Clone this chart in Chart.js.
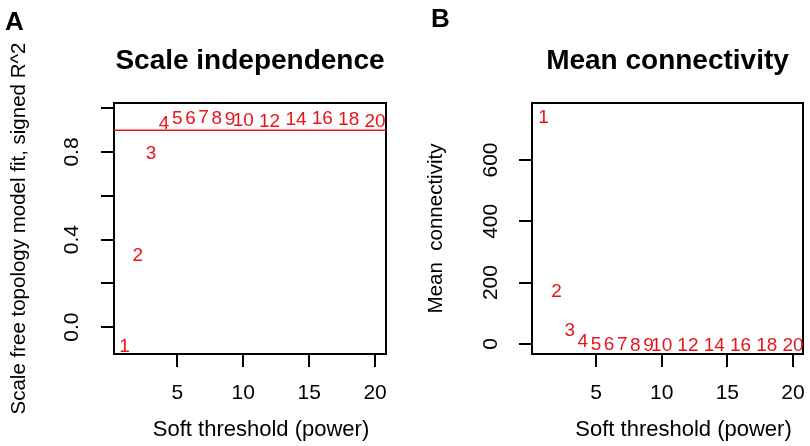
<!DOCTYPE html>
<html>
<head>
<meta charset="utf-8">
<script src="https://cdn.jsdelivr.net/npm/chart.js@4.4.1/dist/chart.umd.min.js"></script>
<style>
  body { margin: 0; background: #fff; }
  .figura { position: relative; width: 810px; height: 446px; }
  .panel { position: absolute; top: 0; width: 405px; height: 446px; }
  .letra { position: absolute; font: bold 26px "Liberation Sans", Arial, sans-serif; line-height: 26px; color: #000; }
</style>
</head>
<body>
<div class="figura">
  <div class="panel" style="left:0"><canvas id="chartA" width="405" height="446"></canvas></div>
  <div class="panel" style="left:405px"><canvas id="chartB" width="405" height="446"></canvas></div>
  <div class="letra" style="left:5px; top:8px">A</div>
  <div class="letra" style="left:431px; top:5px">B</div>
</div>
<script>
// Datos (potencias del soft threshold y sus indices)
const powers = [1, 2, 3, 4, 5, 6, 7, 8, 9, 10, 12, 14, 16, 18, 20];
const fitR2 = [-0.085, 0.333, 0.80, 0.935, 0.958, 0.958, 0.963, 0.958, 0.955, 0.952, 0.947, 0.955, 0.960, 0.955, 0.947];
const meanK = [743, 176, 48, 12, 3, 1.5, 0.9, 0.6, 0.4, 0.3, 0.15, 0.1, 0.06, 0.04, 0.03];
const rCutoff = 0.9;

const xTicks = [5, 10, 15, 20];
const yTicksA = [0, 0.2, 0.4, 0.6, 0.8, 1.0];
const yTickLabelsA = ['0.0', '', '0.4', '', '0.8', ''];
const yTicksB = [0, 200, 400, 600];
const yTickLabelsB = ['0', '200', '400', '600'];

const FUENTE = '"Liberation Sans", Arial, sans-serif';
const ROJO = '#e8141c';

// Caja negra alrededor del area de la grafica (estilo R)
const marcoPlugin = {
    id: 'marco',
    afterDatasetsDraw(chart) {
        const { ctx, chartArea: a } = chart;
        ctx.save();
        ctx.strokeStyle = '#000';
        ctx.lineWidth = 2;
        ctx.strokeRect(a.left, a.top, a.right - a.left, a.bottom - a.top);
        ctx.restore();
    }
};

// Linea horizontal roja del corte de R^2
const cortePlugin = {
    id: 'lineaCorte',
    afterDatasetsDraw(chart, args, opts) {
        if (!opts || opts.valor == null) return;
        const { ctx, chartArea: a } = chart;
        const y = chart.scales.y.getPixelForValue(opts.valor);
        ctx.save();
        ctx.strokeStyle = ROJO;
        ctx.lineWidth = 1.5;
        ctx.beginPath();
        ctx.moveTo(a.left, y);
        ctx.lineTo(a.right, y);
        ctx.stroke();
        ctx.restore();
    }
};

// Cada punto se dibuja como el numero de la potencia, en rojo,
// centrado sobre el punto (los digitos miden ~0.716 del tamano)
const etiquetasPlugin = {
    id: 'etiquetasPotencia',
    afterDatasetsDraw(chart) {
        const { ctx } = chart;
        const meta = chart.getDatasetMeta(0);
        const tam = 19;
        ctx.save();
        ctx.font = tam + 'px ' + FUENTE;
        ctx.fillStyle = ROJO;
        ctx.textAlign = 'center';
        ctx.textBaseline = 'alphabetic';
        meta.data.forEach((punto, i) => {
            ctx.fillText(String(powers[i]), punto.x, punto.y + tam * 0.358);
        });
        ctx.restore();
    }
};

// Titulo del eje x, un poco corrido a la derecha como en la figura original
const tituloXPlugin = {
    id: 'tituloEjeX',
    afterDraw(chart, args, opts) {
        const { ctx, chartArea: a } = chart;
        ctx.save();
        ctx.font = '22px ' + FUENTE;
        ctx.fillStyle = '#000';
        ctx.textAlign = 'center';
        ctx.textBaseline = 'middle';
        ctx.fillText(opts.texto, (a.left + a.right) / 2 + opts.desplazamiento, a.bottom + 76);
        ctx.restore();
    }
};

function crearPanel(id, cfg) {
    const ctx = document.getElementById(id).getContext('2d');
    return new Chart(ctx, {
        type: 'scatter',
        data: {
            datasets: [{
                data: powers.map((p, i) => ({ x: p, y: cfg.valores[i] })),
                pointRadius: 0,
                showLine: false
            }]
        },
        options: {
            responsive: false,
            animation: false,
            layout: { padding: { left: 0, right: cfg.padDerecha, top: 0, bottom: 0 } },
            plugins: {
                legend: { display: false },
                tooltip: { enabled: false },
                title: {
                    display: true,
                    text: cfg.titulo,
                    fullSize: false,
                    color: '#000',
                    font: { size: 28, weight: 'bold', family: FUENTE },
                    padding: { top: 44, bottom: 25.4 }
                },
                lineaCorte: { valor: cfg.corte },
                tituloEjeX: { texto: 'Soft threshold (power)', desplazamiento: cfg.despTituloX }
            },
            scales: {
                x: {
                    type: 'linear',
                    min: cfg.xMin,
                    max: cfg.xMax,
                    afterBuildTicks: s => { s.ticks = xTicks.map(v => ({ value: v })); },
                    afterFit: s => { s.height = 92; s.paddingLeft = 0; s.paddingRight = 0; },
                    ticks: { autoSkip: false, maxRotation: 0, padding: 14, color: '#000', font: { size: 21, family: FUENTE } },
                    grid: { drawOnChartArea: false, drawTicks: true, tickLength: 13, color: '#000', lineWidth: 2 },
                    border: { display: false }
                },
                y: {
                    type: 'linear',
                    min: cfg.yMin,
                    max: cfg.yMax,
                    afterBuildTicks: s => { s.ticks = cfg.yTicks.map(v => ({ value: v })); },
                    afterFit: s => { s.width = cfg.anchoEjeY; s.paddingTop = 0; s.paddingBottom = 0; },
                    ticks: {
                        autoSkip: false,
                        minRotation: 90,
                        maxRotation: 90,
                        crossAlign: 'center',
                        padding: cfg.padTicksY,
                        color: '#000',
                        font: { size: 21, family: FUENTE },
                        callback: (valor, i) => cfg.yLabels[i]
                    },
                    grid: { drawOnChartArea: false, drawTicks: true, tickLength: 13, color: '#000', lineWidth: 2 },
                    border: { display: false },
                    title: {
                        display: true,
                        text: cfg.tituloY,
                        color: '#000',
                        font: { size: 20.5, family: FUENTE },
                        padding: { top: cfg.padTituloY, bottom: 0 }
                    }
                }
            }
        },
        plugins: [marcoPlugin, cortePlugin, etiquetasPlugin, tituloXPlugin]
    });
}

crearPanel('chartA', {
    titulo: 'Scale independence',
    tituloY: 'Scale free topology model fit, signed R^2',
    valores: fitR2,
    xMin: 0.2, xMax: 20.83,
    yMin: -0.123, yMax: 1.024,
    yTicks: yTicksA, yLabels: yTickLabelsA,
    anchoEjeY: 114, padDerecha: 19, padTicksY: 14.5, padTituloY: 7,
    despTituloX: 11,
    corte: rCutoff
});

crearPanel('chartB', {
    titulo: 'Mean connectivity',
    tituloY: 'Mean  connectivity',
    valores: meanK,
    xMin: 0.13, xMax: 20.76,
    yMin: -33, yMax: 786,
    yTicks: yTicksB, yLabels: yTickLabelsB,
    anchoEjeY: 127, padDerecha: 7, padTicksY: 10, padTituloY: 19,
    despTituloX: 16,
    corte: null
});
</script>
</body>
</html>
